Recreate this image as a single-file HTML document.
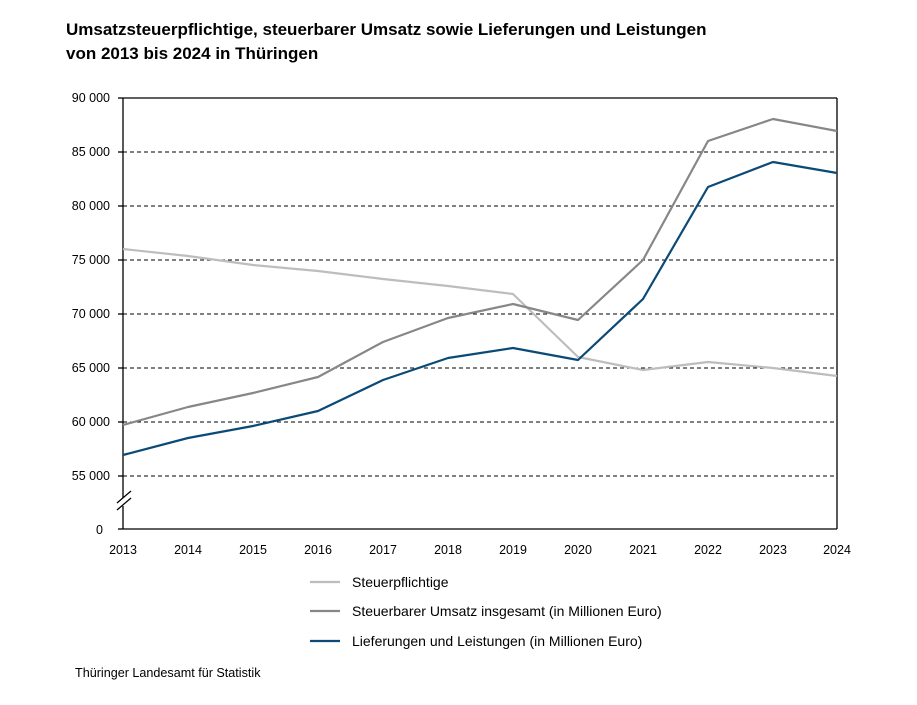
<!DOCTYPE html>
<html><head><meta charset="utf-8"><style>
body{margin:0;background:#fff;}
svg{display:block;font-family:"Liberation Sans",sans-serif;}
</style></head><body>
<svg width="917" height="705" viewBox="0 0 917 705">
<text x="66" y="35" font-size="17" font-weight="bold" fill="#000">Umsatzsteuerpflichtige, steuerbarer Umsatz sowie Lieferungen und Leistungen</text>
<text x="66" y="59" font-size="17" font-weight="bold" fill="#000">von 2013 bis 2024 in Thüringen</text>
<g stroke="#000" stroke-width="1" stroke-dasharray="4,3">
<line x1="123" y1="152" x2="837" y2="152"/><line x1="123" y1="206" x2="837" y2="206"/>
<line x1="123" y1="260" x2="837" y2="260"/><line x1="123" y1="314" x2="837" y2="314"/>
<line x1="123" y1="368" x2="837" y2="368"/><line x1="123" y1="422" x2="837" y2="422"/>
<line x1="123" y1="476" x2="837" y2="476"/>
</g>
<g stroke="#000" stroke-width="1.3" fill="none">
<line x1="123" y1="98" x2="837" y2="98"/>
<line x1="837" y1="98" x2="837" y2="529"/>
<line x1="123" y1="529" x2="837" y2="529"/>
<line x1="123" y1="98" x2="123" y2="498"/>
<line x1="123" y1="506" x2="123" y2="529"/>
<line x1="117" y1="503" x2="131" y2="491"/>
<line x1="117" y1="510" x2="131" y2="498"/>
<line x1="118" y1="98" x2="123" y2="98"/><line x1="118" y1="152" x2="123" y2="152"/>
<line x1="118" y1="206" x2="123" y2="206"/><line x1="118" y1="260" x2="123" y2="260"/>
<line x1="118" y1="314" x2="123" y2="314"/><line x1="118" y1="368" x2="123" y2="368"/>
<line x1="118" y1="422" x2="123" y2="422"/><line x1="118" y1="476" x2="123" y2="476"/>
<line x1="118" y1="529" x2="123" y2="529"/>
</g>
<g font-size="12.5" text-anchor="end" fill="#000">
<text x="110" y="102">90 000</text><text x="110" y="156">85 000</text>
<text x="110" y="210">80 000</text><text x="110" y="264">75 000</text>
<text x="110" y="318">70 000</text><text x="110" y="372">65 000</text>
<text x="110" y="426">60 000</text><text x="110" y="480">55 000</text>
<text x="103" y="534">0</text>
</g>
<g font-size="12.5" text-anchor="middle" fill="#000">
<text x="123" y="554">2013</text><text x="188" y="554">2014</text><text x="253" y="554">2015</text>
<text x="318" y="554">2016</text><text x="383" y="554">2017</text><text x="448" y="554">2018</text>
<text x="513" y="554">2019</text><text x="578" y="554">2020</text><text x="643" y="554">2021</text>
<text x="708" y="554">2022</text><text x="773" y="554">2023</text><text x="837" y="554">2024</text>
</g>
<g fill="none" stroke-width="2.2" stroke-linejoin="round">
<polyline stroke="#bdbdbd" points="123,249 188,256 253,265 318,271 383,279 448,286 513,294 578,357 643,370 708,362 773,368 837,376"/>
<polyline stroke="#878787" points="123,425 188,407 253,393 318,377 383,342 448,318 513,304 578,320 643,260 708,141 773,119 837,131"/>
<polyline stroke="#0b4a77" points="123,455 188,438 253,426 318,411 383,380 448,358 513,348 578,360 643,299 708,187 773,162 837,173"/>
</g>
<line x1="310" y1="582" x2="340" y2="582" stroke="#bdbdbd" stroke-width="2.2"/>
<line x1="310" y1="611" x2="340" y2="611" stroke="#878787" stroke-width="2.2"/>
<line x1="310" y1="641" x2="340" y2="641" stroke="#0b4a77" stroke-width="2.2"/>
<g font-size="14" fill="#000">
<text x="352" y="587">Steuerpflichtige</text>
<text x="352" y="616">Steuerbarer Umsatz insgesamt (in Millionen Euro)</text>
<text x="352" y="646">Lieferungen und Leistungen (in Millionen Euro)</text>
<text x="75" y="677" font-size="12.6">Thüringer Landesamt für Statistik</text>
</g>
</svg>
</body></html>
